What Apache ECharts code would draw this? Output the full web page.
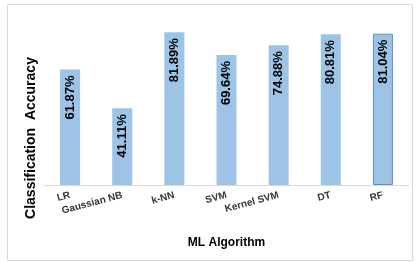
<!DOCTYPE html>
<html>
<head>
<meta charset="utf-8">
<script src="https://cdn.jsdelivr.net/npm/echarts@6/dist/echarts.min.js"></script>
<style>
  html, body { margin: 0; padding: 0; background: #fff; }
  #chart { width: 417px; height: 262px; }
</style>
</head>
<body>
<div id="chart"></div>
<script>
// data
var algorithms = ["LR", "Gaussian NB", "k-NN", "SVM", "Kernel SVM", "DT", "RF"];
var accuracy = [61.87, 41.11, 81.89, 69.64, 74.88, 80.81, 81.04];

var chart = echarts.init(document.getElementById("chart"));

var barData = accuracy.map(function (v, i) {
  var item = { value: v };
  // last bar is drawn with a darker outline in the original
  if (i === accuracy.length - 1) {
    item.itemStyle = { borderColor: "#5b8fc9", borderWidth: 1 };
  }
  return item;
});

var option = {
  animation: false,
  textStyle: { fontFamily: "Liberation Sans" },
  grid: { left: 44, right: 8, top: 17, bottom: 77 },
  graphic: [
    {
      type: "rect",
      shape: { x: 7.5, y: 4.5, width: 405, height: 256 },
      style: { fill: null, stroke: "#d9d9d9", lineWidth: 1 }
    },
    {
      type: "text",
      x: 31,
      y: 138,
      rotation: Math.PI / 2,
      style: {
        text: "Classification  Accuracy",
        font: "bold 14px 'Liberation Sans'",
        fill: "#000",
        align: "center",
        verticalAlign: "middle"
      }
    }
  ],
  xAxis: {
    type: "category",
    data: algorithms,
    name: "ML Algorithm",
    nameLocation: "middle",
    nameGap: 52,
    nameTextStyle: { fontWeight: "bold", fontSize: 12, color: "#000" },
    axisLine: { lineStyle: { color: "#d9d9d9" } },
    axisTick: { length: 5, lineStyle: { color: "#d9d9d9" } },
    axisLabel: {
      interval: 0,
      rotate: 15,
      margin: 10,
      fontSize: 10,
      fontWeight: "bold",
      color: "#333"
    }
  },
  yAxis: {
    type: "value",
    min: 0,
    max: 90,
    axisLine: { show: false },
    axisTick: { show: false },
    axisLabel: { show: false },
    splitLine: { show: false }
  },
  series: [
    {
      type: "bar",
      data: barData,
      barWidth: 20,
      itemStyle: { color: "#9dc3e6" },
      label: {
        show: true,
        position: "insideTop",
        distance: 6,
        rotate: 90,
        align: "right",
        verticalAlign: "middle",
        fontSize: 13,
        fontWeight: "bold",
        color: "#000",
        formatter: function (p) { return p.value.toFixed(2) + "%"; }
      }
    }
  ]
};

chart.setOption(option);
</script>
</body>
</html>
